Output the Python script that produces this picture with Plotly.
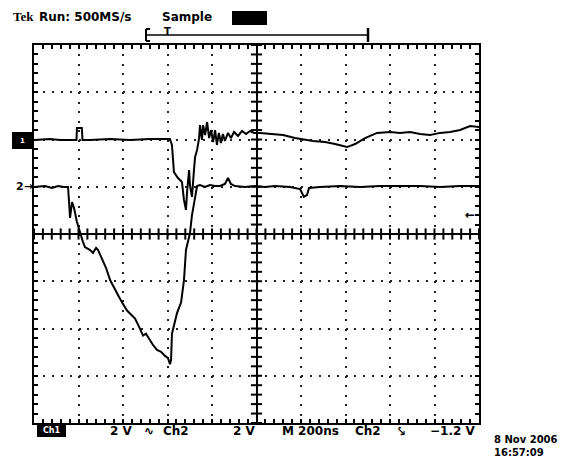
import numpy as np
import plotly.graph_objects as go

# ---------------- data (time in ns, voltage in V relative to channel ground) ----------------
ch1_t = [-1000, -928, -883, -811, -809, -807, -785, -782, -749, -659, -569, -479, -411, -389,
         -380, -371, -353, -335, -326, -317, -312, -303, -299, -290, -281, -276, -267, -258,
         -254, -245, -240, -231, -222, -213, -204, -195, -186, -178, -169, -160, -151, -142,
         -128, -115, -101, -83, -65, -47, -29, -11, 16, 61, 119, 173, 218, 254, 308, 353, 407,
         443, 488, 542, 600, 645, 690, 735, 780, 825, 870, 915, 960, 1000]
ch1_v = [-0.02, 0.02, -0.02, -0.02, -0.02, 0.49, 0.49, -0.02, -0.02, 0.02, -0.02, 0.02, 0.02, 0.02,
         -0.23, -1.38, -1.63, -1.80, -2.56, -2.98, -2.22, -1.29, -1.93, -2.43, -1.29, -0.74, -0.44, 0.06,
         0.61, -0.02, 0.61, 0.19, 0.74, 0.06, 0.40, -0.11, 0.40, -0.23, 0.28, -0.15, 0.23, -0.06,
         0.28, 0.06, 0.32, 0.15, 0.36, 0.23, 0.36, 0.28, 0.28, 0.23, 0.19, 0.06, -0.02, -0.06, -0.11,
         -0.19, -0.32, -0.19, 0.06, 0.28, 0.32, 0.28, 0.32, 0.23, 0.19, 0.28, 0.32, 0.40, 0.57, 0.53]

ch2_t = [-1000, -951, -919, -892, -865, -847, -843, -838, -829, -820, -807, -793, -780, -771,
         -748, -735, -721, -712, -703, -690, -676, -658, -640, -622, -604, -582, -564, -546, -528,
         -510, -497, -479, -465, -447, -429, -411, -398, -389, -384, -380, -371, -357, -339,
         -330, -326, -317, -308, -299, -290, -276, -267, -254, -231, -209, -186, -164, -142,
         -128, -115, -97, -52, -7, 38, 83, 151, 196, 213, 227, 236, 285, 375, 465, 555, 645,
         735, 825, 915, 1000]
ch2_v = [-0.01, 0.03, -0.05, 0.03, -0.01, -0.01, -0.56, -1.32, -0.65, -0.90, -1.49, -1.96, -2.33, -2.55,
         -2.68, -2.80, -2.59, -2.68, -2.89, -3.18, -3.44, -3.95, -4.30, -4.59, -4.90, -5.24, -5.41, -5.58, -5.92,
         -6.30, -6.22, -6.49, -6.70, -6.91, -6.99, -7.16, -7.25, -7.51, -7.34, -6.22, -5.88, -5.34, -4.90,
         -4.37, -3.95, -2.68, -2.25, -1.96, -1.20, -0.35, 0.03, 0.07, -0.01, 0.07, 0.03, 0.03, 0.12,
         0.37, 0.12, 0.03, -0.01, 0.03, -0.01, 0.03, -0.01, -0.10, -0.43, -0.35, -0.05, -0.01, 0.03, -0.01, 0.03, 0.03,
         0.03, -0.01, 0.03, 0.03]

ch1_scale, ch2_scale = 2.0, 2.0      # V/div
ch1_offset, ch2_offset = 2.0, 1.0    # ground position in divisions
time_per_div = 200                   # ns/div
trig_level = -1.2                    # V on ch2

header_texts = ["Tek", "Run: 500MS/s", "Sample"]
bottom_texts = ["2 V", "∿", "Ch2", "2 V", "M 200ns", "Ch2", "⤥", "\u22121.2 V"]
date_text = ["8 Nov 2006", "16:57:09"]

# ---------------- figure ----------------
W, H = 585, 464
L, R, T, B = 34, 106, 45, 41
PW, PH = W - L - R, H - T - B


def X(px):
    return (px - L) / PW


def Y(py):
    return (H - B - py) / PH


y1 = [v / ch1_scale + ch1_offset for v in ch1_v]
y2 = [v / ch2_scale + ch2_offset for v in ch2_v]

fig = go.Figure()

# centre cross tick marks (graticule)
xt = np.arange(-5 * time_per_div, 5 * time_per_div + 1, time_per_div / 5)
yt = np.arange(-4, 4.001, 0.2)
fig.add_trace(go.Scatter(x=xt, y=np.zeros_like(xt), mode="markers", hoverinfo="skip",
                         marker=dict(symbol="line-ns", size=8, line=dict(width=2, color="black")),
                         showlegend=False))
fig.add_trace(go.Scatter(x=np.zeros_like(yt), y=yt, mode="markers", hoverinfo="skip",
                         marker=dict(symbol="line-ew", size=8, line=dict(width=2, color="black")),
                         showlegend=False))

fig.add_trace(go.Scatter(x=ch1_t, y=y1, mode="lines", line=dict(color="black", width=2),
                         showlegend=False, name="Ch1"))
fig.add_trace(go.Scatter(x=ch2_t, y=y2, mode="lines", line=dict(color="black", width=2),
                         showlegend=False, name="Ch2"))

axis_common = dict(showline=True, linecolor="black", linewidth=2, mirror="ticks",
                   ticks="inside", ticklen=4, tickwidth=2, tickcolor="black",
                   showticklabels=False, showgrid=True, gridcolor="#222",
                   gridwidth=2, zeroline=True, zerolinecolor="black", zerolinewidth=2)

fig.update_xaxes(range=[-5 * time_per_div, 5 * time_per_div], dtick=time_per_div,
                 griddash="2px,7.45px",
                 minor=dict(dtick=time_per_div / 5, ticks="inside", ticklen=4, tickwidth=2,
                            tickcolor="black", showgrid=False),
                 **axis_common)
fig.update_yaxes(range=[-4, 4], dtick=1, griddash="2px,6.9px",
                 minor=dict(dtick=0.2, ticks="inside", ticklen=4, tickwidth=2,
                            tickcolor="black", showgrid=False),
                 **axis_common)

FONT = "DejaVu Sans"
ann = []


def text(s, px, py, size=12, color="black", xanchor="left", family=FONT, bold=True):
    ann.append(dict(text=f"<b>{s}</b>" if bold else s, x=X(px), y=Y(py), xref="paper",
                    yref="paper", showarrow=False, xanchor=xanchor, yanchor="middle",
                    font=dict(family=family, size=size, color=color)))


# header
text(header_texts[0], 11, 17, size=13, family="Liberation Serif")
text(header_texts[1], 37, 17, size=12)
text(header_texts[2], 160, 17, size=12)
text("T", 167, 31, size=10, xanchor="center")

shapes = []


def rect(x0, y0, x1, y1):
    shapes.append(dict(type="rect", xref="paper", yref="paper", x0=X(x0), x1=X(x1),
                       y0=Y(y0), y1=Y(y1), fillcolor="black", line=dict(width=0)))


def line(x0, y0, x1, y1, w=2):
    shapes.append(dict(type="line", xref="paper", yref="paper", x0=X(x0), x1=X(x1),
                       y0=Y(y0), y1=Y(y1), line=dict(color="black", width=w)))


rect(232, 11, 267, 25)
line(146, 35, 368, 35, 1.5)
line(146, 29, 146, 41, 2)
line(146, 29, 150, 29, 2)
line(146, 41, 150, 41, 2)
line(368, 28, 368, 42, 2.5)

# left channel markers
rect(12, 132, 32, 149)
text("1", 22, 140.5, size=7, color="white", xanchor="center")
text("2→", 14, 186, size=11)
# trigger level arrow at right
trig_div = trig_level / ch2_scale + ch2_offset
ann.append(dict(text="<b>←</b>", x=5 * time_per_div - 10, y=trig_div, xref="x", yref="y",
                showarrow=False, xanchor="right", yanchor="middle",
                font=dict(family=FONT, size=12, color="black")))

# bottom status line
rect(37, 423, 66, 437)
text("Ch1", 51.5, 430, size=8, color="white", xanchor="center")
bx = [108, 142, 161, 231, 280, 353, 396, 428]
for s, px in zip(bottom_texts, bx):
    text(s, px, 431, size=12)

text(date_text[0], 492, 440, size=10)
text(date_text[1], 492, 452, size=10)

fig.update_layout(width=W, height=H, margin=dict(l=L, r=R, t=T, b=B),
                  paper_bgcolor="white", plot_bgcolor="white",
                  annotations=ann, shapes=shapes)

fig.write_html("out.html")
